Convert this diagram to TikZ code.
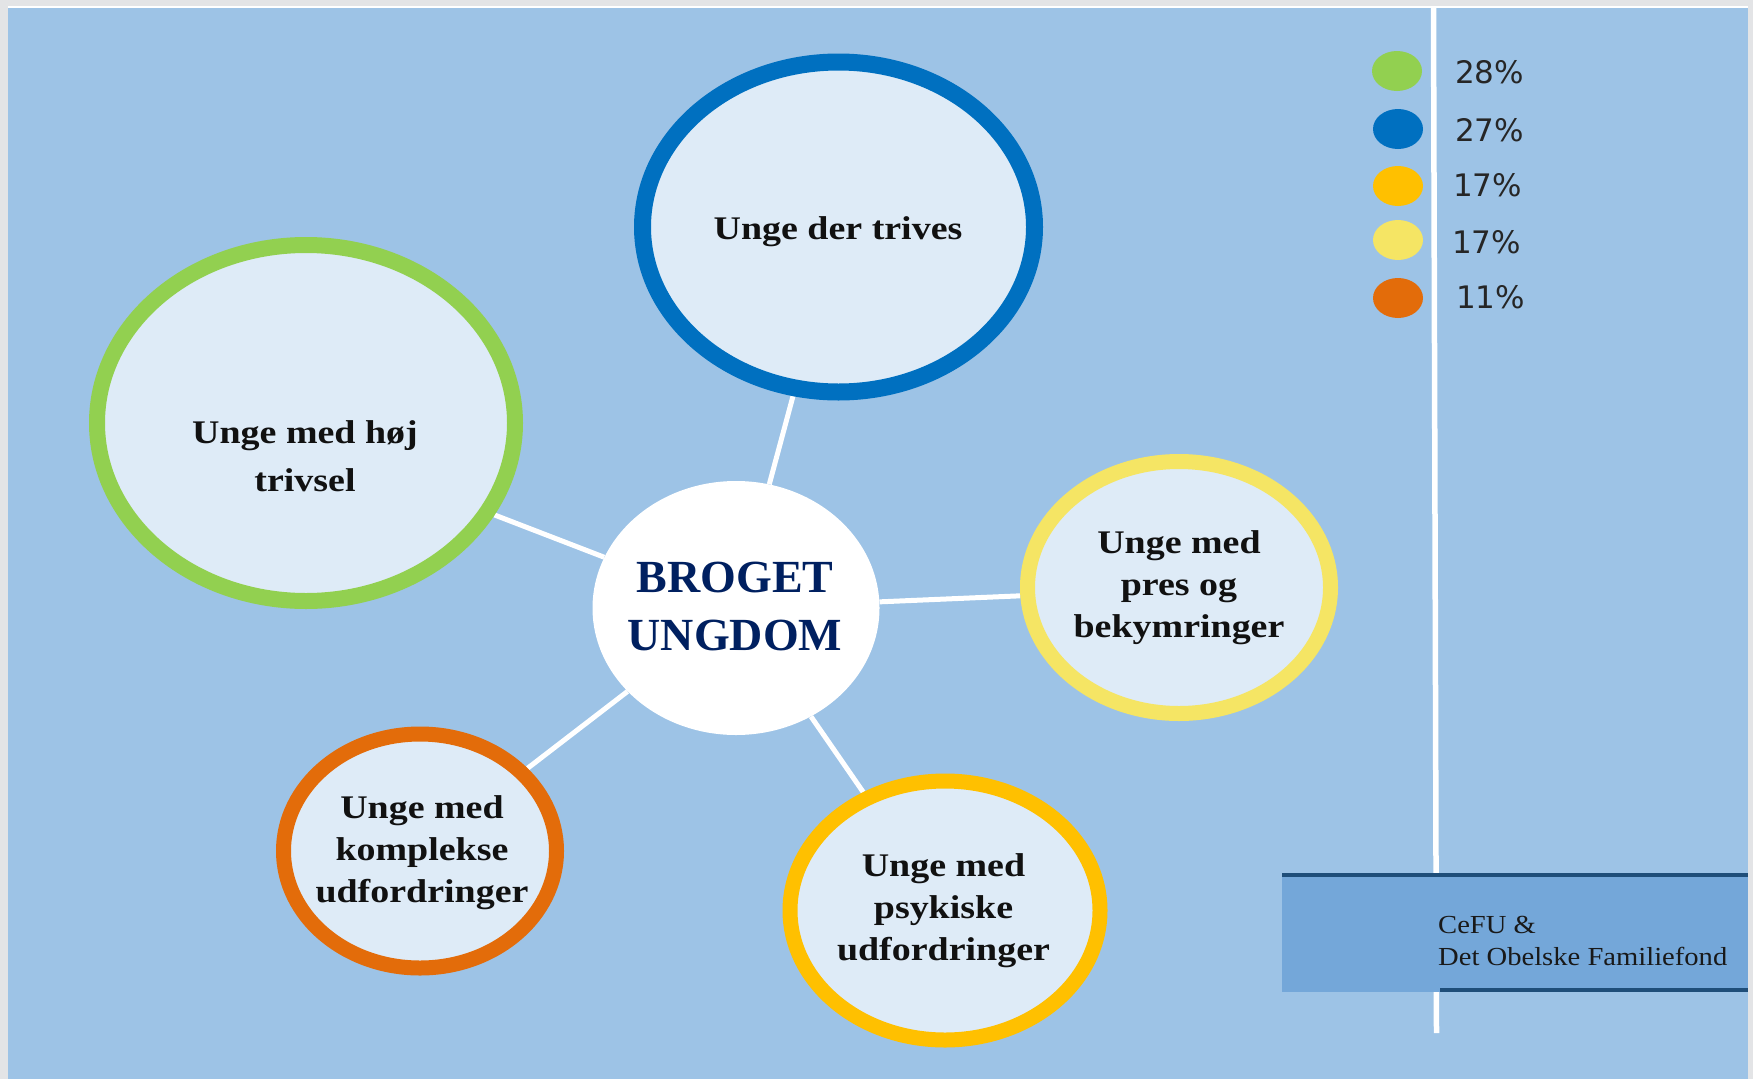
\documentclass[tikz,border=0pt]{standalone}
\usepackage{fontspec}
\setmainfont{Liberation Serif}
\newfontfamily\lblfont[FakeStretch=1.15]{Liberation Serif}
\newfontfamily\pctfont{DejaVu Sans}
\newfontfamily\notefont[FakeStretch=1.1]{Liberation Serif}
\usetikzlibrary{shapes.geometric}
\definecolor{framegray}{HTML}{E3E4E6}
\definecolor{bgblue}{HTML}{9DC3E6}
\definecolor{bubblefill}{HTML}{DEEBF7}
\definecolor{cgreen}{HTML}{92D050}
\definecolor{cblue}{HTML}{0070C0}
\definecolor{cgold}{HTML}{FFC000}
\definecolor{cyellow}{HTML}{F5E564}
\definecolor{corange}{HTML}{E36C0A}
\definecolor{navy}{HTML}{002060}
\definecolor{boxfill}{HTML}{74A7D9}
\definecolor{boxline}{HTML}{1F4E79}
\definecolor{inkdark}{HTML}{111111}
\pgfdeclarelayer{bg}
\pgfdeclarelayer{edges}
\pgfsetlayers{bg,edges,main}
\begin{document}
\begin{tikzpicture}[x=1pt,y=-1pt,
  bubble/.style={ellipse, fill=bubblefill, inner sep=0pt},
  hubshape/.style={ellipse, fill=white, inner sep=0pt},
  lbl/.style={text=inkdark, align=center, inner sep=0pt, anchor=base,
    font=\lblfont\bfseries\fontsize{33}{42}\selectfont},
  hubtext/.style={text=navy, align=center, inner sep=0pt, anchor=base,
    font=\bfseries\fontsize{46}{58}\selectfont},
  conn/.style={draw=white, line width=5pt},
  dot/.style={ellipse, inner sep=0pt, minimum width=50, minimum height=40},
  pct/.style={text=black!85, inner sep=0pt, anchor=base west,
    font=\pctfont\fontsize{31}{36}\selectfont},
  note/.style={text=black!90, align=left, inner sep=0pt, anchor=base west,
    font=\notefont\fontsize{26}{32}\selectfont}
]
\useasboundingbox (0,0) rectangle (1753,1079);
\begin{pgfonlayer}{bg}
  \fill[framegray] (0,0) rectangle (1753,1079);
  \fill[white] (8,5.5) rectangle (1748,8);
  \fill[bgblue] (8,8) rectangle (1748,1079);
  \draw[white, line width=5.5pt] (1433.5,8) -- (1436.5,1033);
\end{pgfonlayer}

% bubbles
\node[bubble, draw=cblue, line width=17pt, minimum width=392, minimum height=330] (trives) at (838.5,227) {};
\node[bubble, draw=cgreen, line width=16pt, minimum width=418, minimum height=356] (hoj) at (306,423) {};
\node[bubble, draw=cyellow, line width=15pt, minimum width=303, minimum height=252] (pres) at (1179,587.5) {};
\node[bubble, draw=corange, line width=15pt, minimum width=273, minimum height=234] (kompl) at (420,851) {};
\node[bubble, draw=cgold, line width=15pt, minimum width=310, minimum height=259] (psyk) at (945,910.5) {};
\node[hubshape, minimum width=287, minimum height=254] (hub) at (736,608) {};

% connectors
\begin{pgfonlayer}{edges}
  \draw[conn] (hub) -- (trives);
  \draw[conn] (hub) -- (hoj.-26);
  \draw[conn] (hub) -- (pres.183);
  \draw[conn] (hub) -- (kompl);
  \draw[conn] (hub) -- (psyk);
\end{pgfonlayer}

% labels
\node[lbl] (trivesT) at (838,239) {Unge der trives};
\node[lbl, font=\lblfont\bfseries\fontsize{33}{48}\selectfont] (hojT) at (305,491) {Unge med høj\\trivsel};
\node[lbl] (presT) at (1179,637) {Unge med\\pres og\\bekymringer};
\node[lbl] (komplT) at (422,902) {Unge med\\komplekse\\udfordringer};
\node[lbl] (psykT) at (943.5,960) {Unge med\\psykiske\\udfordringer};
\node[hubtext] (hubT) at (735,650) {BROGET\\UNGDOM};

% legend
\node[dot, fill=cgreen] (dotA) at (1397,71) {};
\node[dot, fill=cblue] (dotB) at (1398,129) {};
\node[dot, fill=cgold] (dotC) at (1398,186) {};
\node[dot, fill=cyellow] (dotD) at (1398,240) {};
\node[dot, fill=corange] (dotE) at (1398,298) {};
\node[pct] (pA) at (1455,83) {28\%};
\node[pct] (pB) at (1455,141) {27\%};
\node[pct] (pC) at (1453,196) {17\%};
\node[pct] (pD) at (1452,253) {17\%};
\node[pct] (pE) at (1456,308) {11\%};

% source box
\fill[boxfill] (1282,873) rectangle (1748,992);
\draw[boxline, line width=4pt] (1282,875) -- (1748,875);
\draw[boxline, line width=3.5pt] (1440,990) -- (1748,990);
\node[note] (src) at (1438,965) {CeFU \&\\Det Obelske Familiefond};
\end{tikzpicture}
\end{document}
